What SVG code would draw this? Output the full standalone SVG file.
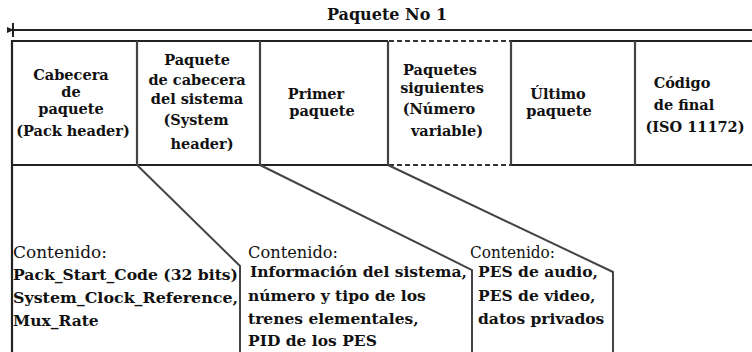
<svg xmlns="http://www.w3.org/2000/svg" width="752" height="352" viewBox="0 0 752 352">
<defs>
<style>
.t{font-family:"DejaVu Serif","Liberation Serif",serif;font-weight:bold;font-size:14.5px;fill:#111;text-anchor:middle}
.b{font-family:"DejaVu Serif","Liberation Serif",serif;font-weight:bold;font-size:15.5px;fill:#111}
.c{font-family:"DejaVu Serif","Liberation Serif",serif;font-weight:normal;font-size:16px;fill:#111}
.frame{stroke:#222;stroke-width:2.2;fill:none}
.div{stroke:#444;stroke-width:2.2;fill:none}
.dash{stroke:#333;stroke-width:2;stroke-dasharray:5 3;fill:none}
.con{stroke:#444;stroke-width:2;fill:none}
</style>
<marker id="arr" markerWidth="8" markerHeight="8" refX="0" refY="4" orient="auto-start-reverse" markerUnits="userSpaceOnUse">
<path d="M0,4 L7,1 L7,7 Z" fill="#222"/>
</marker>
</defs>
<rect width="752" height="352" fill="#fff"/>

<g id="title">
<text class="t" x="387" y="20" style="font-size:16px">Paquete No 1</text>
<line x1="13" y1="23" x2="13" y2="37" stroke="#222" stroke-width="2"/>
<line x1="14" y1="30" x2="752" y2="30" stroke="#222" stroke-width="2" marker-start="url(#arr)"/>
</g>

<g id="frame">
<line class="frame" x1="12" y1="41" x2="388" y2="41"/>
<line class="frame" x1="511" y1="41" x2="752" y2="41"/>
<line class="frame" x1="12" y1="165" x2="388" y2="165"/>
<line class="frame" x1="511" y1="165" x2="752" y2="165"/>
<line class="dash" x1="389" y1="41" x2="511" y2="41"/>
<line class="dash" x1="389" y1="165" x2="511" y2="165"/>
<line class="frame" x1="12" y1="40" x2="12" y2="352"/>
</g>

<g id="pack-header">
<line class="div" x1="137" y1="41" x2="137" y2="165"/>
<text class="t" x="71" y="80">Cabecera</text>
<text class="t" x="71" y="97">de</text>
<text class="t" x="71" y="114">paquete</text>
<text class="t" x="73" y="136">(Pack header)</text>
</g>

<g id="system-header">
<line class="div" x1="260" y1="41" x2="260" y2="165"/>
<text class="t" x="197" y="65">Paquete</text>
<text class="t" x="197" y="85">de cabecera</text>
<text class="t" x="197" y="104">del sistema</text>
<text class="t" x="196" y="125">(System</text>
<text class="t" x="202" y="149">header)</text>
</g>

<g id="primer-paquete">
<line class="div" x1="388" y1="41" x2="388" y2="165"/>
<text class="t" x="316" y="99">Primer</text>
<text class="t" x="322" y="116">paquete</text>
</g>

<g id="paquetes-siguientes">
<line class="div" x1="511" y1="41" x2="511" y2="165"/>
<text class="t" x="440" y="75">Paquetes</text>
<text class="t" x="442" y="93">siguientes</text>
<text class="t" x="439" y="114">(Número</text>
<text class="t" x="447" y="136">variable)</text>
</g>

<g id="ultimo-paquete">
<line class="div" x1="635" y1="41" x2="635" y2="165"/>
<text class="t" x="558" y="99">Último</text>
<text class="t" x="559" y="116">paquete</text>
</g>

<g id="codigo-final">
<text class="t" x="682" y="88">Código</text>
<text class="t" x="684" y="110">de final</text>
<text class="t" x="695" y="132">(ISO 11172)</text>
</g>

<g id="connectors">
<polyline class="con" points="137,165 240,266 240,352"/>
<polyline class="con" points="260,165 472,270 472,352"/>
<polyline class="con" points="388,165 613,272 613,352"/>
</g>

<g id="contenido-pack">
<text class="c" x="13" y="258" textLength="94" lengthAdjust="spacingAndGlyphs">Contenido:</text>
<text class="b" x="13" y="280" textLength="225" lengthAdjust="spacingAndGlyphs">Pack_Start_Code (32 bits)</text>
<text class="b" x="13" y="303" textLength="225" lengthAdjust="spacingAndGlyphs">System_Clock_Reference,</text>
<text class="b" x="13" y="326">Mux_Rate</text>
</g>

<g id="contenido-system">
<text class="c" x="248" y="258" textLength="90" lengthAdjust="spacingAndGlyphs">Contenido:</text>
<text class="b" x="250" y="277" textLength="217" lengthAdjust="spacingAndGlyphs">Información del sistema,</text>
<text class="b" x="248" y="301">número y tipo de los</text>
<text class="b" x="248" y="324">trenes elementales,</text>
<text class="b" x="248" y="346">PID de los PES</text>
</g>

<g id="contenido-paquetes">
<text class="c" x="470" y="258" textLength="85" lengthAdjust="spacingAndGlyphs">Contenido:</text>
<text class="b" x="478" y="277">PES de audio,</text>
<text class="b" x="478" y="301">PES de video,</text>
<text class="b" x="478" y="324">datos privados</text>
</g>
</svg>
